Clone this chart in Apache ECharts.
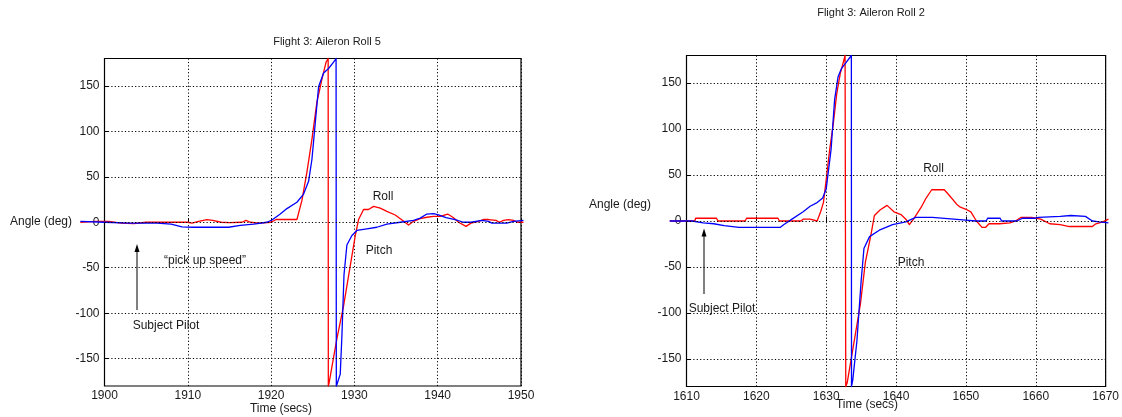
<!DOCTYPE html>
<html><head><meta charset="utf-8">
<script src="https://cdn.jsdelivr.net/npm/echarts@6/dist/echarts.min.js"></script>
<style>html,body{margin:0;padding:0;background:#fff}#c{width:1122px;height:417px}</style>
</head><body><div id="c"></div><script>
// ---- Data: Flight 3, Aileron Roll 5 (left) ----
const roll5Time  = [1897.1,1899,1900.5,1902,1903.5,1905,1908,1910,1910.5,1911.3,1912.3,1913,1914,1915,1916.5,1917,1917.5,1918.5,1920,1920.6,1923.1,1923.7,1924.3,1924.9,1925.5,1926.1,1926.6,1926.85,1926.87,1926.95,1927.9,1928.7,1929.5,1930.1,1930.5,1931.1,1931.7,1932.3,1933.1,1933.9,1934.9,1935.8,1936.5,1937.1,1937.9,1938.7,1939.5,1940.3,1941.2,1941.9,1942.5,1943.4,1944,1944.9,1945.5,1946.1,1947,1947.4,1947.9,1948.5,1949.1,1949.6,1950.3];
const roll5Angle = [0,1,1,-1,-1.5,0,0,0,-1,1,3,2,0,-0.5,0,2,0,-1,0,3,3,24,55,91,132,157,176,180,-180,-177,-128,-92,-48,-15,3,14,14,17.5,15.5,12,8,2,-3,1,4,5.5,6.5,6.5,9,5,0,-4.5,-1,1,3,3,2,0,2,3,2,0,0];
const pitch5Time  = [1897.1,1900,1903,1906.3,1908,1909.3,1910.6,1914.9,1916.3,1917.9,1919.5,1920.1,1921.1,1921.9,1923.1,1923.9,1924.5,1924.9,1925.3,1925.7,1926.3,1926.9,1927.5,1927.8,1927.83,1927.95,1928.3,1928.5,1928.75,1929.1,1929.7,1930.3,1931.5,1932.7,1933.9,1935.5,1937.1,1937.9,1938.7,1939.5,1940.1,1941,1942.1,1943.1,1944,1945.3,1946.1,1946.5,1948.3,1949.1,1950.3];
const pitch5Angle = [1,0,-1,-1,-2,-5,-5.5,-5.5,-3.5,-2,0,2.5,9,15,22,31,45,69,109,149,164,169,176,180,-180,-177,-167,-125,-58,-25,-14.5,-9,-7.3,-5.5,-2,0,2,4.5,9,9.5,8,5,3,0,0,2,1,-1,-1,1,2];

// ---- Data: Flight 3, Aileron Roll 2 (right) ----
const roll2Time  = [1607.6,1611.2,1611.3,1614.3,1614.5,1618.4,1618.6,1623.1,1623.3,1626.4,1626.7,1627.7,1628.7,1629.2,1629.6,1630,1630.5,1631,1631.5,1632,1632.7,1632.8,1633,1633.8,1634.9,1635.6,1636.4,1636.9,1637.7,1638.7,1639.7,1640.7,1641.4,1641.9,1642.5,1643.6,1644.3,1645.1,1646.9,1647.6,1648.7,1649.2,1650.2,1650.7,1651.5,1652.3,1652.8,1653.3,1654.8,1656.3,1657.1,1657.9,1659.4,1660.7,1662,1663.5,1664.8,1668.1,1668.6,1669.6,1670.4];
const roll2Angle = [0,0,3,3,0,0,3,3,0,0,2,2,0,10,20,45,78,105,138,160,180,-180,-176,-140,-90,-45,-15,6,12,17,10,7,2,-4,2,15,25,34,34,28,18,15,12,10,0,-7,-7,-3,-3,-2,0,4,4,2,-3,-4,-6,-6,-3,-1,2];
const pitch2Time  = [1607.6,1610.8,1612.4,1613.9,1615.4,1617.5,1623.4,1623.9,1625.1,1626.7,1627.7,1628.7,1629.5,1630,1630.7,1631.2,1631.7,1632.2,1632.8,1633.6,1633.62,1633.8,1634.4,1635,1635.4,1636.2,1637.6,1639.5,1641.4,1642.8,1645.2,1650,1651.4,1652.9,1653.1,1654.9,1655.1,1657.3,1658.1,1659.9,1660.4,1663.5,1665,1667.1,1668.1,1669.1,1670.4];
const pitch2Angle = [0,0,-2,-3,-5,-7,-7,-4,2,10,16,20,25,35,78,132,157,166,172,180,-180,-173,-130,-65,-30,-17,-10,-4,-1,4,4,1,0,0,3,3,0,0,3,3,4,5,6,5,0,-1,-2];

// ---- Axis ticks ----
const yTicks = [-150,-100,-50,0,50,100,150];
const titles = ['Flight 3: Aileron Roll 5','Flight 3: Aileron Roll 2'];

const zip = (a,b) => a.map((v,i)=>[v,b[i]]);
const FONT = '"Liberation Sans", Arial, sans-serif';
const TXT = '#1a1a1a';
const gridDash = [1.2, 2.2];

function xAxis(i, min, max){
  return {type:'value', gridIndex:i, min, max, interval:10,
    axisLine:{show:false}, axisTick:{show:true, inside:true, length:4, lineStyle:{color:'#000'}},
    axisLabel:{color:TXT, fontFamily:FONT, fontSize:12, margin:4, formatter:v=>String(v)},
    splitLine:{show:true, lineStyle:{color:'#000', type:gridDash, width:1}}};
}
function yAxis(i){
  return {type:'value', gridIndex:i, min:-180, max:180,
    axisLine:{show:false},
    axisTick:{show:true, inside:true, length:4, customValues:yTicks, lineStyle:{color:'#000'}},
    axisLabel:{color:TXT, fontFamily:FONT, fontSize:12, margin:5, customValues:yTicks, formatter:v=>String(v)},
    splitLine:{show:false}};
}
// horizontal dotted grid lines at the y ticks
function gridSeries(i){
  return {type:'line', xAxisIndex:i, yAxisIndex:i, data:[], silent:true, z:2,
    markLine:{silent:true, symbol:['none','none'], label:{show:false}, animation:false,
      lineStyle:{color:'#000', type:gridDash, width:1}, emphasis:{disabled:true},
      data: yTicks.map(v=>({yAxis:v}))}};
}
// traces drawn with a polyline 'lines' series (not clipped to the plot box, as in the original)
function trace(i, time, angle, color){
  return {type:'lines', coordinateSystem:'cartesian2d', xAxisIndex:i, yAxisIndex:i,
    polyline:true, clip:false, silent:true, z:3,
    lineStyle:{color, width:1.3, opacity:1, curveness:0, join:'round', cap:'butt'},
    data:[{coords: zip(time, angle)}]};
}
function txt(text, x, y, align){
  return {type:'text', style:{text, x, y, fill:TXT, font:'12px '+FONT, align:align||'center', verticalAlign:'middle'}};
}
function arrow(x, yTip, yBase){
  return [
    {type:'line', shape:{x1:x, y1:yBase, x2:x, y2:yTip+6}, style:{stroke:'#000', lineWidth:1}},
    {type:'polygon', shape:{points:[[x,yTip],[x-2.5,yTip+8],[x+2.5,yTip+8]]}, style:{fill:'#000'}}
  ];
}

const chart = echarts.init(document.getElementById('c'), null, {renderer:'canvas'});
chart.setOption({
  animation:false,
  backgroundColor:'#fff',
  grid:[
    {left:104.5, top:58.5, width:416.5, height:327.5, show:true, borderColor:'#000', borderWidth:1.2, backgroundColor:'transparent'},
    {left:686.5, top:55.5, width:420, height:331, show:true, borderColor:'#000', borderWidth:1.2, backgroundColor:'transparent'}
  ],
  xAxis:[xAxis(0,1900,1950), xAxis(1,1610,1670)],
  yAxis:[yAxis(0), yAxis(1)],
  series:[
    gridSeries(0), gridSeries(1),
    trace(0, roll5Time, roll5Angle, '#ff0000'),
    trace(0, pitch5Time, pitch5Angle, '#0000ff'),
    trace(1, roll2Time, roll2Angle, '#ff0000'),
    trace(1, pitch2Time, pitch2Angle, '#0000ff')
  ],
  graphic:[
    {type:'text', style:{text:titles[0], x:327, y:41.5, fill:TXT, font:'11px '+FONT, align:'center', verticalAlign:'middle'}},
    {type:'text', style:{text:titles[1], x:871, y:12.5, fill:TXT, font:'11px '+FONT, align:'center', verticalAlign:'middle'}},
    txt('Angle (deg)', 10, 221.5, 'left'),
    txt('Angle (deg)', 589, 205, 'left'),
    txt('Time (secs)', 281, 409),
    txt('Time (secs)', 867, 405),
    txt('Roll', 383, 196.5),
    txt('Pitch', 379, 250.5),
    txt('\u201Cpick up speed\u201D', 205, 260.5),
    txt('Subject Pilot', 166, 325.5),
    txt('Roll', 933.5, 169),
    txt('Pitch', 911, 262.5),
    txt('Subject Pilot', 722, 309),
    ...arrow(137, 244, 310),
    ...arrow(704, 228.5, 294)
  ]
});
</script></body></html>
